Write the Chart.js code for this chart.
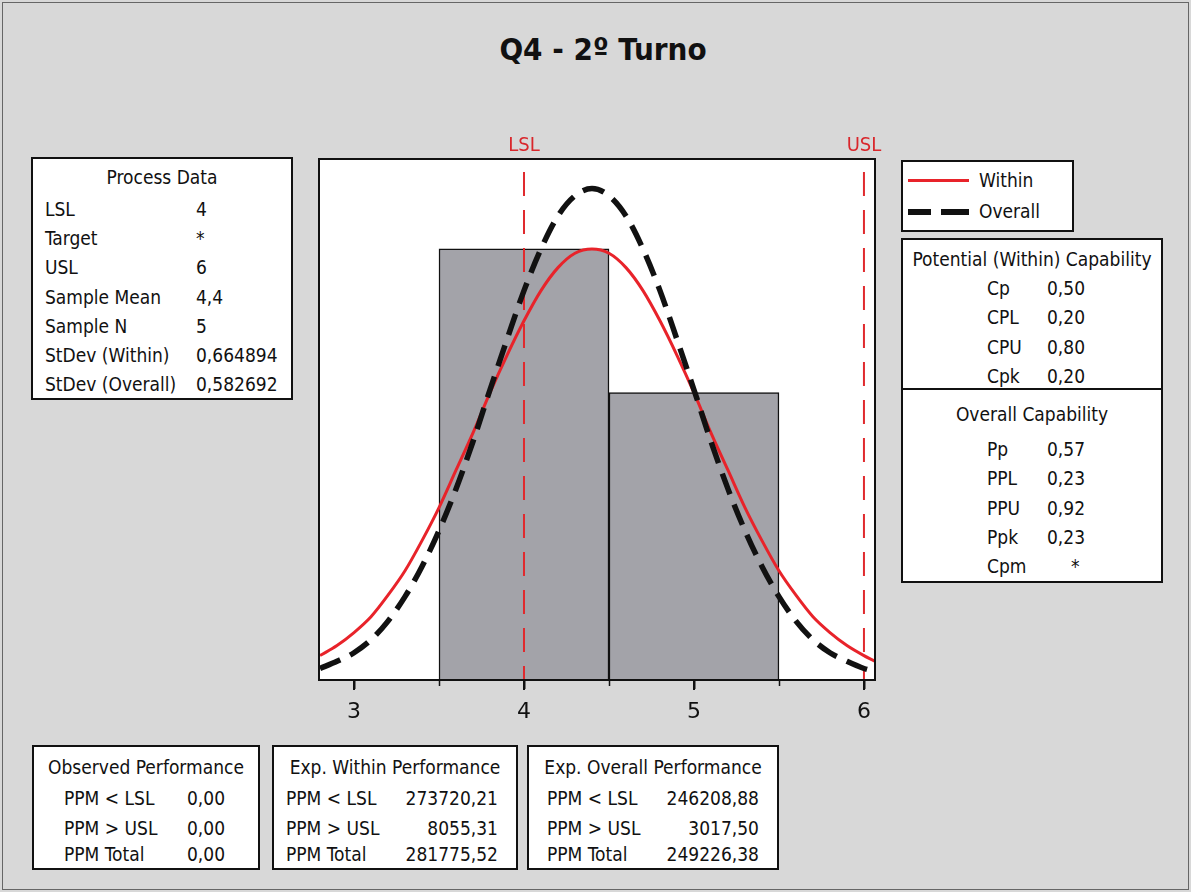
<!DOCTYPE html>
<html>
<head>
<meta charset="utf-8">
<title>Q4 - 2º Turno</title>
<script src="https://cdn.jsdelivr.net/npm/chart.js@4.4.1/dist/chart.umd.min.js"></script>
<style>
  html, body { margin: 0; padding: 0; }
  body {
    width: 1191px; height: 892px; position: relative; overflow: hidden;
    background: #d8d8d8; color: #111;
    font-family: "DejaVu Sans Condensed", "DejaVu Sans", sans-serif;
  }
  #frame { position: absolute; left: 2px; top: 2px; width: 1187px; height: 888px; border: 1px solid #666; box-sizing: border-box; }
  #chart { position: absolute; left: 0; top: 0; }
  #title { position: absolute; left: 0; width: 1206px; top: 30px; text-align: center; font-weight: bold; font-size: 31px; line-height: 38px; }
  .box { position: absolute; border: 2px solid #111; background: #fff; box-sizing: border-box; }
  .t { position: absolute; white-space: nowrap; font-size: 19px; line-height: 22px; }
  .spec { position: absolute; top: 132px; color: #d9262b; font-size: 20px; line-height: 24px; transform: translateX(-50%); }
  .rule { position: absolute; left: 0; right: 0; border-top: 2px solid #111; }
</style>
</head>
<body>
<div id="frame"></div>
<div id="title">Q4 - 2º Turno</div>
<canvas id="chart" width="1191" height="892"></canvas>
<div class="spec" id="lslLabel">LSL</div>
<div class="spec" id="uslLabel">USL</div>

<div class="box" id="legend" style="left:901px;top:160px;width:173px;height:72px">
  <div style="position:absolute;left:5px;top:17px;width:61px;height:3px;background:#e8232a"></div>
  <div style="position:absolute;left:5px;top:47px;width:23px;height:6px;background:#111"></div>
  <div style="position:absolute;left:38px;top:47px;width:28px;height:6px;background:#111"></div>
  <div class="t" style="left:76px;top:7px">Within</div>
  <div class="t" style="left:76px;top:38px">Overall</div>
</div>

<script>
// histogram + fitted curves
const xTicks = [3, 4, 5, 6];
const binCenters = [4, 5];
const binCounts = [3, 2];
const binEdges = [3.5, 4.5, 5.5];
const LSL = 4;
const USL = 6;

const curveX = [2.8, 2.9, 3.0, 3.1, 3.2, 3.3, 3.4, 3.5, 3.6, 3.7, 3.8, 3.9, 4.0, 4.1, 4.2, 4.3, 4.4,
                4.5, 4.6, 4.7, 4.8, 4.9, 5.0, 5.1, 5.2, 5.3, 5.4, 5.5, 5.6, 5.7, 5.8, 5.9, 6.0, 6.1];
const withinY = [0.17, 0.24, 0.33, 0.44, 0.59, 0.76, 0.97, 1.20, 1.46, 1.72, 2.00, 2.26, 2.50, 2.71, 2.87, 2.97, 3.00,
                 2.97, 2.87, 2.71, 2.50, 2.26, 2.00, 1.72, 1.46, 1.20, 0.97, 0.76, 0.59, 0.44, 0.33, 0.24, 0.17, 0.11];
const overallY = [0.08, 0.13, 0.19, 0.28, 0.41, 0.58, 0.79, 1.04, 1.33, 1.66, 2.02, 2.37, 2.71, 3.00, 3.23, 3.37, 3.42,
                  3.37, 3.23, 3.00, 2.71, 2.37, 2.02, 1.66, 1.33, 1.04, 0.79, 0.58, 0.41, 0.28, 0.19, 0.13, 0.08, 0.05];

// text tables
const processData = [['LSL', '4'], ['Target', '*'], ['USL', '6'], ['Sample Mean', '4,4'], ['Sample N', '5'],
                     ['StDev (Within)', '0,664894'], ['StDev (Overall)', '0,582692']];
const potentialCap = [['Cp', '0,50'], ['CPL', '0,20'], ['CPU', '0,80'], ['Cpk', '0,20']];
const overallCap = [['Pp', '0,57'], ['PPL', '0,23'], ['PPU', '0,92'], ['Ppk', '0,23'], ['Cpm', '*']];
const observedPerf = [['PPM < LSL', '0,00'], ['PPM > USL', '0,00'], ['PPM Total', '0,00']];
const withinPerf = [['PPM < LSL', '273720,21'], ['PPM > USL', '8055,31'], ['PPM Total', '281775,52']];
const overallPerf = [['PPM < LSL', '246208,88'], ['PPM > USL', '3017,50'], ['PPM Total', '249226,38']];

const X_MIN = 2.794, X_MAX = 6.065, Y_MAX = 3.626;
const PLOT = { left: 319, right: 875, top: 159, bottom: 680 };

// --- text boxes ---
function makeBox(left, top, w, h) {
  const b = document.createElement('div');
  b.className = 'box';
  b.style.cssText = `left:${left}px;top:${top}px;width:${w}px;height:${h}px`;
  document.body.appendChild(b);
  return b;
}
function addText(box, txt, x, yc, align) {
  const d = document.createElement('div');
  d.className = 't';
  d.textContent = txt;
  d.style.top = (yc - 11) + 'px';
  if (align === 'center') { d.style.left = '0'; d.style.right = '0'; d.style.textAlign = 'center'; }
  else if (align === 'right') { d.style.right = x + 'px'; }
  else d.style.left = x + 'px';
  box.appendChild(d);
}

let b = makeBox(31, 157, 262, 243);
addText(b, 'Process Data', 0, 18, 'center');
processData.forEach((r, i) => {
  const y = 50 + i * 29.2;
  addText(b, r[0], 12, y);
  addText(b, r[1], 163, y);
});

b = makeBox(901, 238, 262, 345);
addText(b, 'Potential (Within) Capability', 0, 19, 'center');
potentialCap.forEach((r, i) => {
  const y = 48 + i * 29.3;
  addText(b, r[0], 84, y);
  addText(b, r[1], 144, y);
});
const rule = document.createElement('div');
rule.className = 'rule'; rule.style.top = '148px';
b.appendChild(rule);
addText(b, 'Overall Capability', 0, 174, 'center');
overallCap.forEach((r, i) => {
  const y = 209 + i * 29.3;
  addText(b, r[0], 84, y);
  addText(b, r[1], r[1] === '*' ? 168 : 144, y);
});

b = makeBox(32, 745, 228, 125);
addText(b, 'Observed Performance', 0, 20, 'center');
observedPerf.forEach((r, i) => {
  const y = [51, 81, 107][i];
  addText(b, r[0], 30, y);
  addText(b, r[1], 153, y);
});

b = makeBox(272, 745, 246, 125);
addText(b, 'Exp. Within Performance', 0, 20, 'center');
withinPerf.forEach((r, i) => {
  const y = [51, 81, 107][i];
  addText(b, r[0], 12, y);
  addText(b, r[1], 18, y, 'right');
});

b = makeBox(527, 745, 252, 125);
addText(b, 'Exp. Overall Performance', 0, 20, 'center');
overallPerf.forEach((r, i) => {
  const y = [51, 81, 107][i];
  addText(b, r[0], 18, y);
  addText(b, r[1], 18, y, 'right');
});

// --- chart ---
const plotFrame = {
  id: 'plotFrame',
  beforeDraw(chart) {
    const { ctx, chartArea: a } = chart;
    ctx.save();
    ctx.fillStyle = '#ffffff';
    ctx.fillRect(a.left, a.top, a.width, a.height);
    ctx.restore();
  },
  afterDraw(chart) {
    const { ctx, chartArea: a } = chart;
    const xs = chart.scales.x;
    ctx.save();
    ctx.strokeStyle = '#111';
    ctx.lineWidth = 2;
    ctx.strokeRect(a.left, a.top, a.width, a.height);
    // tick marks: labelled ones and the shorter bin-edge ones
    xTicks.concat(binEdges).forEach(v => {
      const px = Math.round(xs.getPixelForValue(v)) + 0.5;
      ctx.lineWidth = binEdges.includes(v) ? 1.5 : 2;
      ctx.beginPath();
      ctx.moveTo(px, a.bottom);
      ctx.lineTo(px, a.bottom + (binEdges.includes(v) ? 6 : 9));
      ctx.stroke();
    });
    ctx.restore();
  }
};

const ctx = document.getElementById('chart').getContext('2d');
const chart = new Chart(ctx, {
  type: 'bar',
  data: {
    datasets: [
      {
        type: 'line', label: 'Overall',
        data: curveX.map((x, i) => ({ x: x, y: overallY[i] })),
        borderColor: '#111', borderWidth: 5.5, borderDash: [22, 11],
        pointRadius: 0, cubicInterpolationMode: 'monotone', order: 1
      },
      {
        type: 'line', label: 'Within',
        data: curveX.map((x, i) => ({ x: x, y: withinY[i] })),
        borderColor: '#e8232a', borderWidth: 3,
        pointRadius: 0, cubicInterpolationMode: 'monotone', order: 2
      },
      {
        type: 'line', label: 'LSL',
        data: [{ x: LSL, y: 0 }, { x: LSL, y: Y_MAX }],
        borderColor: '#e02a2e', borderWidth: 2, borderDash: [24, 14], borderDashOffset: 10,
        pointRadius: 0, order: 3
      },
      {
        type: 'line', label: 'USL',
        data: [{ x: USL, y: 0 }, { x: USL, y: Y_MAX }],
        borderColor: '#e02a2e', borderWidth: 2, borderDash: [24, 14], borderDashOffset: 10,
        pointRadius: 0, order: 3
      },
      {
        type: 'bar', label: 'Count',
        data: binCenters.map((x, i) => ({ x: x, y: binCounts[i] })),
        backgroundColor: '#a3a3a9', borderColor: '#111', borderWidth: 1.5,
        barPercentage: 1, categoryPercentage: 1, order: 5
      }
    ]
  },
  options: {
    responsive: false,
    animation: false,
    layout: { padding: { left: PLOT.left, right: 1191 - PLOT.right, top: PLOT.top, bottom: 160 } },
    plugins: { legend: { display: false }, tooltip: { enabled: false } },
    scales: {
      x: {
        type: 'linear', min: X_MIN, max: X_MAX, offset: false,
        afterBuildTicks: s => { s.ticks = xTicks.map(v => ({ value: v })); },
        grid: { offset: false, drawOnChartArea: false, tickLength: 10, color: '#111', lineWidth: 2 },
        border: { display: false },
        ticks: { color: '#111', padding: 9, font: { family: 'DejaVu Sans', size: 22 }, callback: v => String(v) }
      },
      y: { display: false, min: 0, max: Y_MAX }
    }
  },
  plugins: [plotFrame]
});

// nudge padding so the plot area lands where the reference has it
const pad = chart.options.layout.padding;
pad.bottom += chart.chartArea.bottom - PLOT.bottom;
pad.left += PLOT.left - chart.chartArea.left;
pad.right += chart.chartArea.right - PLOT.right;
pad.top += PLOT.top - chart.chartArea.top;
chart.update();

document.getElementById('lslLabel').style.left = chart.scales.x.getPixelForValue(LSL) + 'px';
document.getElementById('uslLabel').style.left = chart.scales.x.getPixelForValue(USL) + 'px';
</script>
</body>
</html>
